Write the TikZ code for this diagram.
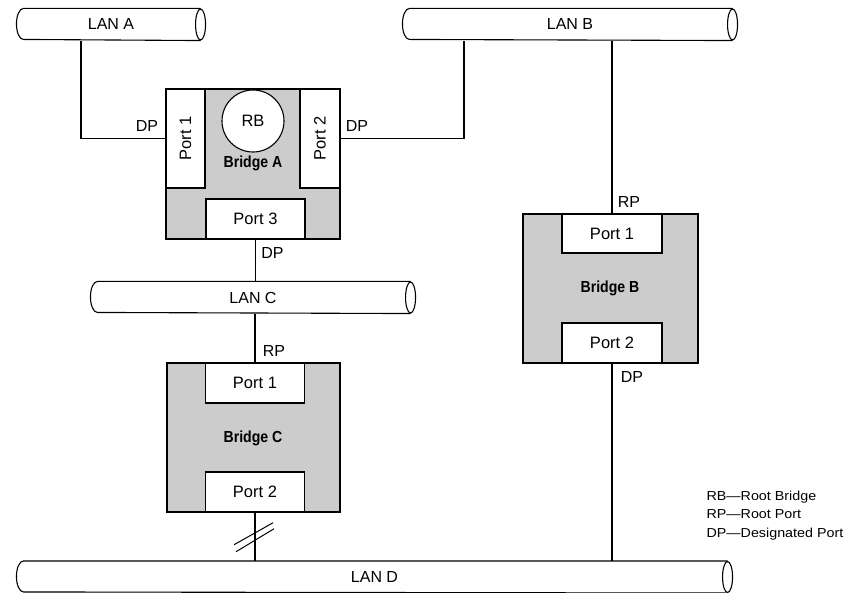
\documentclass[tikz,border=0pt]{standalone}
\usepackage{fontspec}
\setmainfont{Liberation Sans}
\newfontfamily\condbold{Liberation Sans Bold}[FakeStretch=0.88]
\newfontfamily\widefont{Liberation Sans}[FakeStretch=1.1]
\begin{document}
\begin{tikzpicture}[x=1pt,y=-1pt, line width=1.1pt,
  lan/.style={minimum height=31pt, inner sep=0pt, font=\fontsize{16}{17}\selectfont},
  bridge/.style={draw, fill=black!20, inner sep=0pt},
  port/.style={draw, fill=white, inner sep=0pt, font=\fontsize{16.5}{17}\selectfont},
  lbl/.style={font=\fontsize{16}{17}\selectfont, inner sep=1pt},
  bname/.style={font=\condbold\fontsize{16}{17}\selectfont, inner sep=1pt},
  slash/.style={line width=1pt}
]
\fill[white] (0,0) rectangle (851,593);
\useasboundingbox (0,0) rectangle (851,593);

% LANs
\node[lan, minimum width=188pt] (lanA) at (111,24.5) {LAN A};
\node[lan, minimum width=334pt] (lanB) at (570,24.5) {LAN B};
\node[lan, minimum width=324pt] (lanC) at (253,297.5) {LAN C};
\node[lan, minimum width=715pt] (lanD) at (374.5,577) {LAN D};
\foreach \n in {lanA,lanB,lanC,lanD}{
  \draw ([xshift=-5pt]\n.north east) -- ([xshift=7pt]\n.north west)
     arc[start angle=90,end angle=270,x radius=7pt,y radius=15.5pt]
     -- ([xshift=-5pt]\n.south east);
  \draw ([xshift=-5pt]\n.east) ellipse[x radius=5pt, y radius=15.5pt];
}

% Bridge A
\node[bridge, minimum width=174pt, minimum height=150pt] (bA) at (253,164) {};
\node[port, minimum width=39pt, minimum height=99pt] (pA1) at (185.5,138.5) {\rotatebox{90}{Port 1}};
\node[port, minimum width=40pt, minimum height=99pt] (pA2) at (320,138.5) {\rotatebox{90}{Port 2}};
\node[port, minimum width=99pt, minimum height=40pt] (pA3) at (255.5,219) {Port 3};
\node[draw, circle, fill=white, minimum size=62pt, inner sep=0pt, font=\fontsize{16.5}{17}\selectfont] (rb) at (253,121) {RB};
\node[bname] (nA) at (253,163) {Bridge A};

% Bridge B
\node[bridge, minimum width=175pt, minimum height=149pt] (bB) at (610.5,288.5) {};
\node[port, minimum width=100pt, minimum height=39pt] (pB1) at (612,233.5) {Port 1};
\node[port, minimum width=100pt, minimum height=40pt] (pB2) at (612,343) {Port 2};
\node[bname] (nB) at (610,288) {Bridge B};

% Bridge C
\node[bridge, minimum width=173pt, minimum height=149pt] (bC) at (253.5,437.5) {};
\node[port, minimum width=99pt, minimum height=40pt] (pC1) at (255,383) {Port 1};
\node[port, minimum width=99pt, minimum height=40pt] (pC2) at (255,492) {Port 2};
\node[bname] (nC) at (253,438) {Bridge C};

% connectors
\draw (pA1.west) -| ([xshift=-30pt]lanA.south);
\draw (pA2.east) -| ([xshift=-106pt]lanB.south);
\draw (pA3.south) -- (pA3.south |- lanC.north);
\draw (lanC.south -| pC1.north) -- (pC1.north);
\draw (pC2.south) -- coordinate[pos=0.5] (brk) (pC2.south |- lanD.north);
\draw (pB1.north) -- (pB1.north |- lanB.south);
\draw (pB2.south) -- (pB2.south |- lanD.north);

% break mark
\draw[slash] ([shift={(-21,8)}]brk) -- ([shift={(18,-14)}]brk);
\draw[slash] ([shift={(-19,15)}]brk) -- ([shift={(19,-8)}]brk);

% port role labels
\node[lbl] (dpA1) at (147,126) {DP};
\node[lbl] (dpA2) at (357,126) {DP};
\node[lbl] (dpA3) at (272.5,252.5) {DP};
\node[lbl] (rpC1) at (274,351) {RP};
\node[lbl] (rpB1) at (629,202) {RP};
\node[lbl] (dpB2) at (632,377) {DP};

% legend
\node[anchor=north west, align=left, inner sep=0pt, font=\widefont\fontsize{13}{18.5}\selectfont] (leg) at (706,490.5)
  {RB—Root Bridge\\RP—Root Port\\DP—Designated Port};
\end{tikzpicture}
\end{document}
